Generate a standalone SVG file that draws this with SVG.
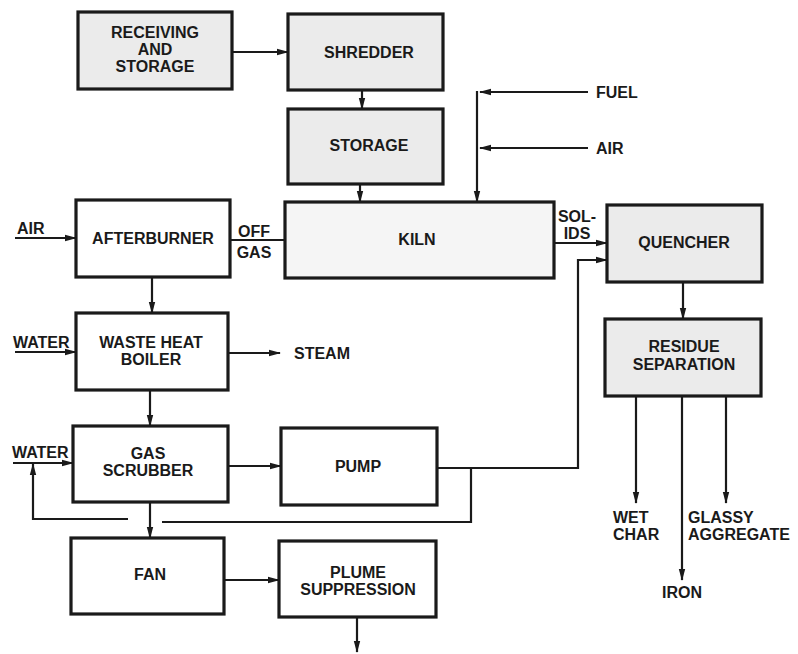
<svg xmlns="http://www.w3.org/2000/svg" width="798" height="654" viewBox="0 0 798 654">
<defs>
<marker id="ah" markerWidth="12" markerHeight="8" refX="11" refY="4" orient="auto" markerUnits="userSpaceOnUse">
<path d="M0,0.8 L12,4 L0,7.2 Z" fill="#1a1a1a"/>
</marker>
</defs>
<style>
.box{stroke:#1a1a1a;stroke-width:3.2;fill:#ffffff}
.shade{fill:#ebebeb}
.light{fill:#f5f5f5}
.t{font-family:"Liberation Sans",Arial,sans-serif;font-weight:bold;font-size:16px;fill:#1a1a1a;text-anchor:middle}
.l{font-family:"Liberation Sans",Arial,sans-serif;font-weight:bold;font-size:16px;fill:#1a1a1a}
.c{fill:none;stroke:#1a1a1a;stroke-width:2.2}
.a{marker-end:url(#ah)}
</style>
<rect width="798" height="654" fill="#ffffff"/>

<g id="connectors">
<path class="c a" d="M232,52 H288"/>
<path class="c a" d="M362,90 V109"/>
<path class="c a" d="M360,184 V202"/>
<path class="c a" d="M588,92 H480"/>
<path class="c a" d="M588,148 H480"/>
<path class="c a" d="M477,91 V202"/>
<path class="c a" d="M554,243 H607"/>
<path class="c" d="M230,240 H285"/>
<path class="c a" d="M15,238 H76"/>
<path class="c a" d="M152,277 V313"/>
<path class="c a" d="M15,352 H76"/>
<path class="c a" d="M228,353 H280"/>
<path class="c a" d="M150,390 V426"/>
<path class="c a" d="M13,463 H73"/>
<path class="c a" d="M228,466 H281"/>
<path class="c a" d="M150,502 V538"/>
<path class="c a" d="M437,468 H578 V260 H607"/>
<path class="c" d="M471,468 V522 H162"/>
<path class="c a" d="M128,519 H33 V464"/>
<path class="c a" d="M224,580 H279"/>
<path class="c a" d="M357,617 V652"/>
<path class="c a" d="M683,282 V319"/>
<path class="c a" d="M636,396 V503"/>
<path class="c a" d="M726,396 V503"/>
<path class="c a" d="M682,396 V580"/>
</g>

<g id="labels">
<text class="l" x="596" y="98">FUEL</text>
<text class="l" x="596" y="154">AIR</text>
<text class="t" x="577" y="222">SOL-</text>
<text class="t" x="577" y="239">IDS</text>
<text class="t" x="254" y="237">OFF</text>
<text class="t" x="254" y="258">GAS</text>
<text class="l" x="17" y="234">AIR</text>
<text class="l" x="13" y="348">WATER</text>
<text class="l" x="294" y="359">STEAM</text>
<text class="l" x="12" y="458">WATER</text>
<text class="l" x="613" y="523">WET</text>
<text class="l" x="613" y="540">CHAR</text>
<text class="l" x="688" y="523">GLASSY</text>
<text class="l" x="688" y="540">AGGREGATE</text>
<text class="t" x="682" y="598">IRON</text>
</g>

<g id="receiving">
<rect class="box shade" x="78" y="12" width="154" height="77"/>
<text class="t" x="155" y="38">RECEIVING</text>
<text class="t" x="155" y="55">AND</text>
<text class="t" x="155" y="72">STORAGE</text>
</g>
<g id="shredder">
<rect class="box shade" x="288" y="14" width="155" height="76"/>
<text class="t" x="369" y="58">SHREDDER</text>
</g>
<g id="storage">
<rect class="box shade" x="288" y="109" width="155" height="75"/>
<text class="t" x="369" y="151">STORAGE</text>
</g>
<g id="afterburner">
<rect class="box" x="76" y="200" width="154" height="77"/>
<text class="t" x="153" y="244">AFTERBURNER</text>
</g>
<g id="kiln">
<rect class="box light" x="285" y="202" width="269" height="76"/>
<text class="t" x="417" y="245">KILN</text>
</g>
<g id="quencher">
<rect class="box shade" x="607" y="205" width="155" height="77"/>
<text class="t" x="684" y="248">QUENCHER</text>
</g>
<g id="residue">
<rect class="box shade" x="605" y="319" width="156" height="77"/>
<text class="t" x="684" y="352">RESIDUE</text>
<text class="t" x="684" y="370">SEPARATION</text>
</g>
<g id="boiler">
<rect class="box" x="76" y="313" width="152" height="77"/>
<text class="t" x="151" y="348">WASTE HEAT</text>
<text class="t" x="151" y="365">BOILER</text>
</g>
<g id="scrubber">
<rect class="box" x="73" y="426" width="155" height="76"/>
<text class="t" x="148" y="459">GAS</text>
<text class="t" x="148" y="476">SCRUBBER</text>
</g>
<g id="pump">
<rect class="box" x="281" y="428" width="156" height="77"/>
<text class="t" x="358" y="472">PUMP</text>
</g>
<g id="fan">
<rect class="box" x="71" y="538" width="153" height="76"/>
<text class="t" x="150" y="580">FAN</text>
</g>
<g id="plume">
<rect class="box" x="279" y="541" width="157" height="76"/>
<text class="t" x="358" y="578">PLUME</text>
<text class="t" x="358" y="595">SUPPRESSION</text>
</g>
</svg>
